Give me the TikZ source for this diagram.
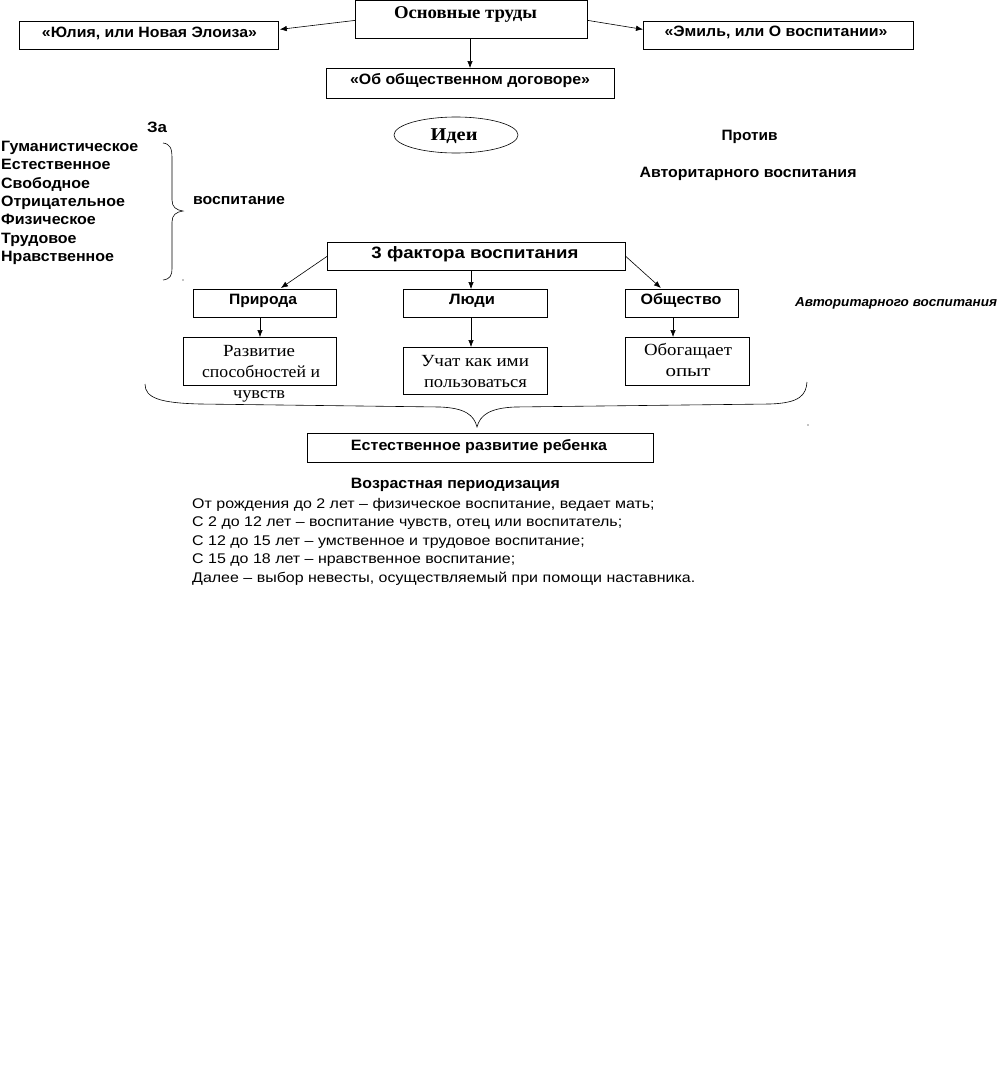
\documentclass[tikz,border=0pt]{standalone}
\usepackage{fontspec}
\usepackage{graphicx}
\setmainfont{Liberation Serif}
\setsansfont{Liberation Sans}
\usetikzlibrary{arrows.meta,calc,shapes.geometric}
\newcommand\fw[2]{\resizebox{#1pt}{\height}{#2}}
\tikzset{
  box/.style={draw, line width=0.8pt, rectangle, inner sep=0pt, anchor=north west},
  arr/.style={draw, line width=0.6pt, -{Latex[length=7pt,width=5.5pt]}},
  bsans/.style={font=\fontsize{15}{18.3}\selectfont\sffamily\bfseries, inner sep=0pt, anchor=base},
  rsans/.style={font=\fontsize{14}{18.5}\selectfont\sffamily, inner sep=0pt},
  bserif/.style={font=\fontsize{18}{20}\selectfont\bfseries, inner sep=0pt, anchor=base},
  rserif/.style={font=\fontsize{17}{21}\selectfont, inner sep=0pt, anchor=base},
}
\begin{document}
\begin{tikzpicture}[x=1pt,y=-1pt]
\useasboundingbox (0,0) rectangle (997,1092);
% top
\node[box, minimum width=232pt, minimum height=38pt] (main) at (355,0) {};
\node[bserif] (maint) at (465.5,19) {\fw{143}{Основные труды}};
\node[box, minimum width=259pt, minimum height=28pt] (yulia) at (19,21) {};
\node[bsans] (yuliat) at (149.5,37) {\fw{215}{«Юлия, или Новая Элоиза»}};
\node[box, minimum width=270pt, minimum height=28pt] (emil) at (643,21) {};
\node[bsans] (emilt) at (776,36) {\fw{223}{«Эмиль, или О воспитании»}};
\node[box, minimum width=288pt, minimum height=30pt] (dog) at (326,68) {};
\node[bsans] (dogt) at (470,84) {\fw{240}{«Об общественном договоре»}};
\draw[arr] ($(main.west)+(0,1)$) -- ($(yulia.east)+(1,-6)$);
\draw[arr] ($(main.east)+(0,1)$) -- ($(emil.west)+(0,-6)$);
\draw[arr] (main.south -| 470,0) -- (dog.north -| 470,0);
% ideas
\node[bsans] (za) at (157,132) {\fw{20}{За}};
\node[bsans, anchor=base west] (list) at (1,151.5) {\fw{137}{\begin{tabular}[t]{@{}l@{}}Гуманистическое\\Естественное\\Свободное\\Отрицательное\\Физическое\\Трудовое\\Нравственное\end{tabular}}};
\draw[line width=0.6pt] (163,143) .. controls (170,144) and (172,148) .. (172,158) -- (172,200) .. controls (172,207) and (176,210) .. (183,211) .. controls (176,212) and (172,215) .. (172,222) -- (172,268) .. controls (172,276) and (170,279) .. (163,280);
\node[bsans] (vosp) at (239,204) {\fw{92}{воспитание}};
\node[draw, line width=0.6pt, ellipse, minimum width=124pt, minimum height=36pt, inner sep=0pt] (idei) at (456,135) {};
\node[bserif] (ideit) at (454,140) {\fw{47}{Идеи}};
\node[bsans] (protiv) at (749.5,140.5) {\fw{56}{Против}};
\node[bsans] (avt) at (748,177) {\fw{217}{Авторитарного воспитания}};
% factors
\node[box, minimum width=298pt, minimum height=28pt] (f3) at (327,242) {};
\node[bsans, font=\fontsize{16.5}{20}\selectfont\sffamily\bfseries] (f3t) at (475,258.5) {\fw{207}{3 фактора воспитания}};
\node[box, minimum width=143pt, minimum height=28pt] (prir) at (193,289) {};
\node[bsans] (prirt) at (263,304) {\fw{68}{Природа}};
\node[box, minimum width=144pt, minimum height=28pt] (lyudi) at (403,289) {};
\node[bsans] (lyudit) at (472,304) {\fw{46}{Люди}};
\node[box, minimum width=113pt, minimum height=28pt] (obsh) at (625,289) {};
\node[bsans] (obsht) at (681,304) {\fw{81}{Общество}};
\draw[arr] (f3.west) -- ($(prir.north)+(16,-1)$);
\draw[arr] (f3.south -| 471,0) -- (lyudi.north -| 471,0);
\draw[arr] (f3.east) -- ($(obsh.north)+(-21,-1)$);
\node[box, minimum width=153pt, minimum height=48pt] (razv) at (183,337) {};
\node[rserif] (razvt1) at (259,356) {\fw{72}{Развитие}};
\node[rserif] (razvt2) at (261,377) {\fw{118}{способностей и}};
\node[rserif] (razvt3) at (259,398) {\fw{52}{чувств}};
\node[box, minimum width=144pt, minimum height=47pt] (uchat) at (403,347) {};
\node[rserif] (uchatt1) at (475,366) {\fw{108}{Учат как ими}};
\node[rserif] (uchatt2) at (475.5,387) {\fw{103}{пользоваться}};
\node[box, minimum width=124pt, minimum height=48pt] (obog) at (625,337) {};
\node[rserif] (obogt1) at (688,355) {\fw{88}{Обогащает}};
\node[rserif] (obogt2) at (688,376) {\fw{45}{опыт}};
\draw[arr] (prir.south -| 260,0) -- (razv.north -| 260,0);
\draw[arr] (lyudi.south -| 471,0) -- (uchat.north -| 471,0);
\draw[arr] (obsh.south -| 673,0) -- (obog.north -| 673,0);
\node[font=\fontsize{13}{15}\selectfont\sffamily\bfseries\itshape, inner sep=0pt, anchor=base] (avti) at (896,306) {\fw{202}{Авторитарного воспитания}};
% bottom brace
\draw[line width=0.6pt] (145,384) .. controls (145,398) and (160,403) .. (200,404) -- (440,407) .. controls (465,408) and (474,415) .. (477,427) .. controls (480,415) and (490,408) .. (515,407) -- (770,404) .. controls (800,403) and (806,395) .. (807,382);
\fill (183,280) circle (0.7pt);
\fill (808,425) circle (0.7pt);
\node[box, minimum width=346pt, minimum height=29pt] (est) at (307,433) {};
\node[bsans] (estt) at (479,450) {\fw{256}{Естественное развитие ребенка}};
% periodization
\node[bsans] (vozr) at (455.5,488) {\fw{209}{Возрастная периодизация}};
\node[rsans, anchor=base west] (per) at (192,508) {\fw{503}{\begin{tabular}[t]{@{}l@{}}От рождения до 2 лет – физическое воспитание, ведает мать;\\С 2 до 12 лет – воспитание чувств, отец или воспитатель;\\С 12 до 15 лет – умственное и трудовое воспитание;\\С 15 до 18 лет – нравственное воспитание;\\Далее – выбор невесты, осуществляемый при помощи наставника.\end{tabular}}};
\end{tikzpicture}
\end{document}
